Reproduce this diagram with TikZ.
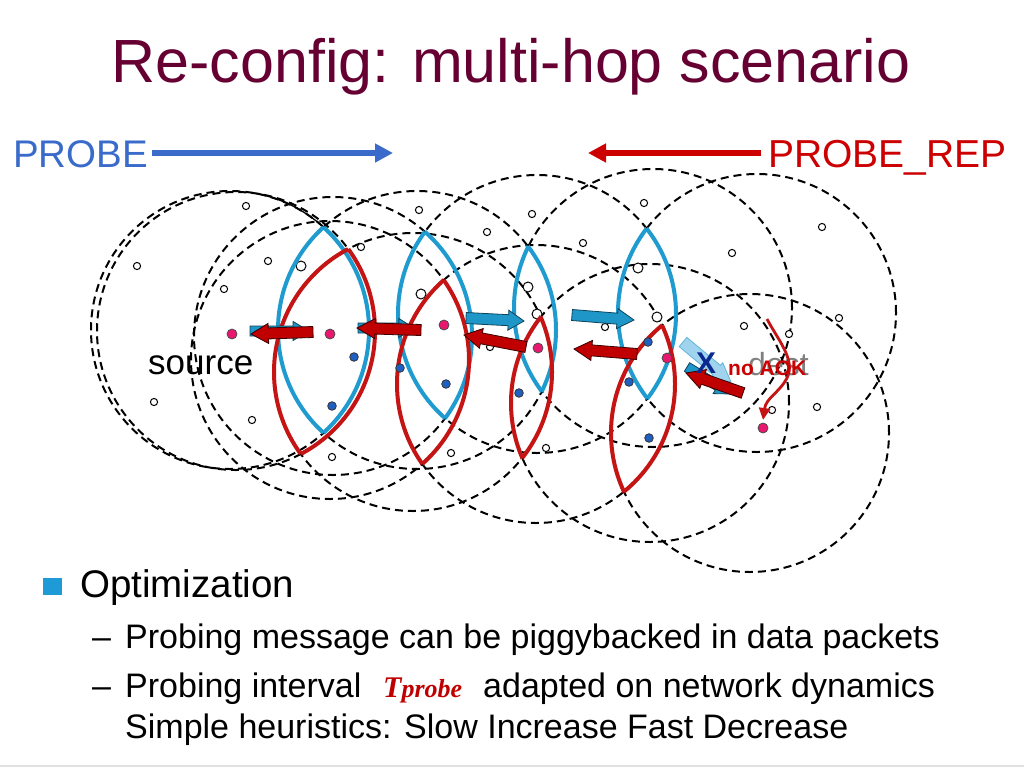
\documentclass[tikz,border=0pt]{standalone}
\usepackage{fontspec}
\setmainfont{Liberation Sans}
\newfontfamily\tms{Liberation Serif}
\usetikzlibrary{calc,arrows.meta}
\definecolor{titlec}{HTML}{660033}
\definecolor{probeb}{HTML}{3A6BCB}
\definecolor{repr}{HTML}{CC0000}
\definecolor{lensb}{HTML}{1F9BCF}
\definecolor{lensr}{HTML}{C41414}
\definecolor{arrb}{HTML}{1E96C8}
\definecolor{arrr}{HTML}{C00000}
\definecolor{pinkd}{HTML}{E8186E}
\definecolor{bluedot}{HTML}{1F5FBF}
\definecolor{ltblue}{HTML}{9FD3EE}
\definecolor{bulletc}{HTML}{1E9BD7}
\definecolor{xblue}{HTML}{0B2A8F}
\newcommand\myR{139pt}
\newcommand\lensdraw[3]{%
  \begin{scope}\clip (#2) circle[radius=\myR]; \draw[#1] (#3) circle[radius=\myR]; \end{scope}
  \begin{scope}\clip (#3) circle[radius=\myR]; \draw[#1] (#2) circle[radius=\myR]; \end{scope}}
\newcommand\blkarrow[6]{%
  \coordinate (ba-h) at ($(#2)!#6!(#3)$);
  \filldraw[#1] ($(#2)!#4!90:(#3)$) -- ($(ba-h)!#4!90:(#3)$) -- ($(ba-h)!#5!90:(#3)$) -- (#3)
    -- ($(ba-h)!#5!-90:(#3)$) -- ($(ba-h)!#4!-90:(#3)$) -- ($(#2)!#4!-90:(#3)$) -- cycle;}
\tikzset{
  dcirc/.style={draw=black, line width=2pt, dash pattern=on 8pt off 5pt},
  bluelens/.style={draw=lensb, line width=4pt},
  redlens/.style={draw=lensr, line width=4pt},
  hollow/.style={draw=black, fill=white, line width=1pt},
  bdot/.style={draw=black!80, fill=bluedot, line width=0.8pt},
  pdot/.style={draw=black!70, fill=pinkd, line width=0.8pt},
  barr/.style={fill=arrb, draw=black!55!arrb, line width=0.8pt},
  larr/.style={fill=ltblue, draw=arrb!70, line width=0.8pt},
  rarr/.style={fill=arrr, draw=black!70!arrr, line width=0.8pt},
  txt/.style={inner sep=0pt, anchor=base west},
}
\begin{document}
\begin{tikzpicture}[x=1pt,y=-1pt]
\useasboundingbox (0,0) rectangle (1024,768);
\fill[white] (0,0) rectangle (1024,768);
\draw[black!12, line width=1.5pt] (0,766) -- (1024,766);

% title
\node[inner sep=0pt, anchor=base, text=titlec, font=\fontsize{61}{70}\selectfont] (title) at (511,82) {Re-config: multi-hop scenario};

% PROBE legends
\node[txt, text=probeb, font=\fontsize{38.5}{40}\selectfont] (probe) at (13,167) {PROBE};
\node[txt, text=repr, font=\fontsize{39}{40}\selectfont] (prep) at (768,167) {PROBE\_REP};
\coordinate (pbtip) at (393,153);
\coordinate (prtip) at (588,153);
\coordinate (pbstart) at ([xshift=4pt]probe.east);
\coordinate (prstart) at ([xshift=-7pt]prep.west);
\draw[probeb, line width=5.5pt, -{Triangle[length=18pt,width=18pt]}] (pbstart |- pbtip) -- (pbtip);
\draw[repr, line width=5.5pt, -{Triangle[length=18pt,width=18pt]}] (prstart |- prtip) -- (prtip);

% source label
\node[txt, font=\fontsize{35}{36}\selectfont] (src) at (148,374) {source};

% circle centres (old path n, new path m)
\coordinate (n0) at (230,330);
\coordinate (m0) at (236,331);
\coordinate (n1) at (333,336);
\coordinate (m1) at (330,360);
\coordinate (n2) at (417,330);
\coordinate (m2) at (413,372);
\coordinate (n3) at (537,314);
\coordinate (m3) at (536,384);
\coordinate (n4) at (653,308);
\coordinate (m4) at (650,403);
\coordinate (n5) at (757,313);
\coordinate (m5) at (750,433);

\foreach \c in {n0,m0,n1,m1,n2,m2,n3,m3,n4,m4,n5,m5}
  \draw[dcirc] (\c) circle[radius=\myR];
\draw[line width=1.3pt] (n0) ++(80:139pt) arc[start angle=80, end angle=36, radius=139pt];

% hollow nodes
\foreach \p in {(246,206),(137,266),(268,261),(224,289),(154,402),(252,420),(332,457),
  (361,247),(419,210),(487,232),(490,347),(451,453),(532,214),(583,243),(644,203),
  (605,327),(546,448),(732,253),(822,227),(744,326),(789,334),(839,318),(817,407),(772,410)}
  \draw[hollow] \p circle[radius=3.6pt];
\foreach \p in {(301,266),(421,294),(528,287),(537,314),(638,268),(657,317)}
  \draw[hollow] \p circle[radius=5pt];

% lenses
\lensdraw{bluelens}{n0}{n2}
\lensdraw{bluelens}{n1}{n3}
\lensdraw{bluelens}{n2}{n4}
\lensdraw{bluelens}{n3}{n5}
\lensdraw{redlens}{m0}{m2}
\lensdraw{redlens}{m1}{m3}
\lensdraw{redlens}{m2}{m4}
\lensdraw{redlens}{m3}{m5}

% blue and pink nodes
\foreach \p in {(354,357),(332,406),(400,368),(446,384),(519,393),(629,382),(649,438),(648,342)}
  \draw[bdot] \p circle[radius=4.3pt];
\foreach \p in {(232,334),(330,334),(444,325),(538,348),(667,358),(763,428)}
  \draw[pdot] \p circle[radius=5pt];

% PROBE block arrows
\coordinate (b1t) at (250,331); \coordinate (b1h) at (309,331);
\coordinate (b2t) at (358,328); \coordinate (b2h) at (414,328);
\coordinate (b3t) at (466,318); \coordinate (b3h) at (524,321);
\coordinate (b4t) at (572,315); \coordinate (b4h) at (634,320);
\coordinate (b5t) at (683,342); \coordinate (b5h) at (731,382);
\coordinate (b6t) at (687,367); \coordinate (b6h) at (731,394);
\blkarrow{barr}{b1t}{b1h}{5pt}{9.5pt}{0.73}
\blkarrow{barr}{b2t}{b2h}{5pt}{9.5pt}{0.73}
\blkarrow{barr}{b3t}{b3h}{5.5pt}{10pt}{0.73}
\blkarrow{barr}{b4t}{b4h}{5.5pt}{10pt}{0.73}
\blkarrow{barr}{b6t}{b6h}{5pt}{9pt}{0.7}
\blkarrow{larr}{b5t}{b5h}{6pt}{9.5pt}{0.7}

% PROBE_REP block arrows
\coordinate (r1t) at (313,332); \coordinate (r1h) at (251,334);
\coordinate (r2t) at (421,330); \coordinate (r2h) at (357,328);
\coordinate (r3t) at (526,347); \coordinate (r3h) at (464,335);
\coordinate (r4t) at (637,354); \coordinate (r4h) at (574,349);
\coordinate (r5t) at (743,393); \coordinate (r5h) at (686,373);
\blkarrow{rarr}{r1t}{r1h}{5.5pt}{10pt}{0.72}
\blkarrow{rarr}{r2t}{r2h}{5.5pt}{10pt}{0.72}
\blkarrow{rarr}{r3t}{r3h}{5.5pt}{10pt}{0.72}
\blkarrow{rarr}{r4t}{r4h}{5.5pt}{10pt}{0.72}
\blkarrow{rarr}{r5t}{r5h}{5.5pt}{10pt}{0.7}

% dest labels
\node[txt, text=black!50, font=\fontsize{32}{34}\selectfont] (dest) at (748,375) {dest};
\coordinate (ca) at (767,319);
\coordinate (cb) at (763,420);
\draw[lensr, line width=2.8pt, -{Triangle[length=12pt,width=11pt]}] (ca) .. controls (778,340) and (796,360) .. (787,378) .. controls (779,393) and (766,398) .. (cb);
\node[txt, text=xblue, font=\bfseries\fontsize{30}{32}\selectfont] (xmark) at (696,373) {X};
\node[txt, text=repr, font=\bfseries\fontsize{21}{23}\selectfont] (noaok) at (728,375) {no AOK};

% bottom text
\fill[bulletc] (43,578) rectangle (62,595);
\node[txt, font=\fontsize{38.5}{40}\selectfont] (opt) at (80,597) {Optimization};
\node[txt, font=\fontsize{34}{36}\selectfont] (d1) at (92,648) {–};
\node[txt, font=\fontsize{34}{36}\selectfont] (l1) at (125,648) {Probing message can be piggybacked in data packets};
\node[txt, font=\fontsize{34}{36}\selectfont] (d2) at (92,697) {–};
\node[txt, font=\fontsize{34}{36}\selectfont] (l2) at (125,697) {Probing interval};
\node[txt, text=arrr] (tp) at (383,697) {\tms\bfseries\itshape\fontsize{30}{32}\selectfont T\fontsize{26}{28}\selectfont probe};
\node[txt, font=\fontsize{34}{36}\selectfont] (l3) at (483,697) {adapted on network dynamics};
\node[txt, font=\fontsize{34}{36}\selectfont] (l4) at (125,738) {Simple heuristics: Slow Increase Fast Decrease};
\end{tikzpicture}
\end{document}
